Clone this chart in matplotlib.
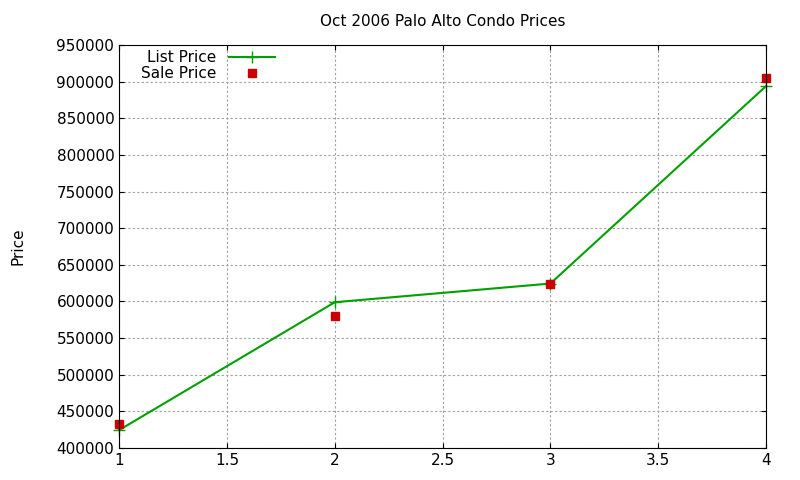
import matplotlib
matplotlib.use("Agg")
import matplotlib.pyplot as plt

x = [1, 2, 3, 4]
list_price = [424500, 599000, 624500, 894000]
sale_price = [433000, 580500, 624500, 905000]

fig = plt.figure(figsize=(8, 4.8), dpi=100)
ax = fig.add_axes([0.149, 0.0667, 0.8085, 0.8393])
ax.plot(x, list_price, color="#00a000", marker="+", markersize=9, lw=1.5, label="List Price", clip_on=False)
ax.plot(x, sale_price, ls="none", marker="s", color="#cc0000", markersize=6, label="Sale Price", clip_on=False)
ax.set_xlim(1, 4)
ax.set_ylim(400000, 950000)
ax.set_xticks([1, 1.5, 2, 2.5, 3, 3.5, 4])
ax.set_xticklabels(["1", "1.5", "2", "2.5", "3", "3.5", "4"])
ax.set_yticks(range(400000, 950001, 50000))
ax.grid(True, color="#a0a0a0", ls=(0, (2, 2)), lw=0.8)
ax.tick_params(direction="in", labelsize=11, top=True, right=True)
ax.set_ylabel("Price", fontsize=11, labelpad=22)
ax.set_title("Oct 2006 Palo Alto Condo Prices", fontsize=11, pad=14)
ax.legend(loc="upper left", bbox_to_anchor=(0.02, 1.01), frameon=False, markerfirst=False,
          fontsize=11, handlelength=3, labelspacing=0.05, borderaxespad=0.2)
fig.savefig("out.png", dpi=100)
